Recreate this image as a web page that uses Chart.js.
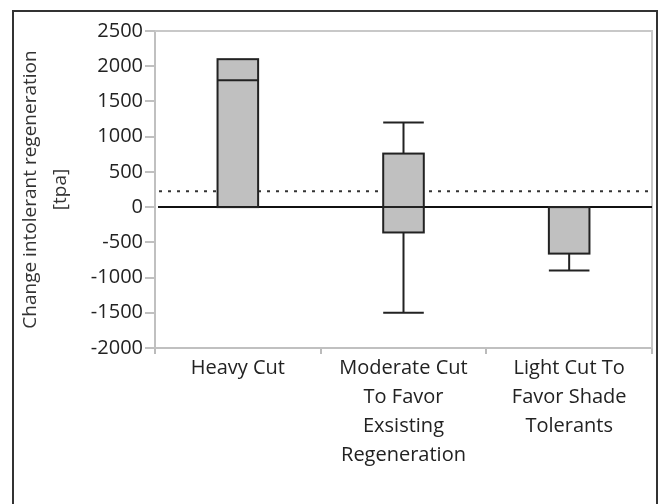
<!DOCTYPE html>
<html>
<head>
<meta charset="utf-8">
<title>Change intolerant regeneration</title>
<script src="https://cdn.jsdelivr.net/npm/chart.js"></script>
<style>
  body { margin: 0; background: #fff; }
  #wrap { position: relative; width: 662px; height: 504px; }
  #frame { position: absolute; left: 12px; top: 10px; width: 642px; height: 520px; border: 2px solid #333; }
</style>
</head>
<body>
<div id="wrap">
  <div id="frame"></div>
  <canvas id="boxChart" width="662" height="504"></canvas>
</div>
<script>
// categories and box plot values (tpa)
const categories = [
  ['Heavy Cut'],
  ['Moderate Cut', 'To Favor', 'Exsisting', 'Regeneration'],
  ['Light Cut To', 'Favor Shade', 'Tolerants']
];
const q1 = [0, -360, -660];
const q3 = [2100, 760, 0];
const medians = [1800, 0, 0];
const whiskerLow = [0, -1500, -900];
const whiskerHigh = [2100, 1200, 0];
const referenceLine = 225;
const yTicks = [2500, 2000, 1500, 1000, 500, 0, -500, -1000, -1500, -2000];

const FONT = "'Open Sans', 'Noto Sans', sans-serif";

// extra lines: plot frame, dotted reference, zero line, box outlines, whiskers and medians
const boxExtras = {
  id: 'boxExtras',
  beforeDatasetsDraw(chart) {
    const { ctx, chartArea: a, scales: { y } } = chart;
    ctx.save();
    ctx.strokeStyle = '#c8c8c8';
    ctx.lineWidth = 2;
    ctx.beginPath();
    ctx.moveTo(a.left, a.top);
    ctx.lineTo(a.right, a.top);
    ctx.lineTo(a.right, a.bottom);
    ctx.stroke();
    const ry = y.getPixelForValue(referenceLine);
    ctx.strokeStyle = '#333';
    ctx.lineWidth = 2;
    ctx.setLineDash([3, 6]);
    ctx.beginPath();
    ctx.moveTo(a.left + 4, ry);
    ctx.lineTo(a.right - 4, ry);
    ctx.stroke();
    ctx.restore();
  },
  afterDatasetsDraw(chart) {
    const { ctx, chartArea: a, scales: { x, y } } = chart;
    const meta = chart.getDatasetMeta(0);
    ctx.save();
    ctx.strokeStyle = '#111';
    ctx.lineWidth = 2;
    const zy = y.getPixelForValue(0);
    ctx.beginPath();
    ctx.moveTo(a.left + 3, zy);
    ctx.lineTo(a.right, zy);
    ctx.stroke();
    ctx.strokeStyle = '#222';
    categories.forEach((c, i) => {
      const cx = x.getPixelForValue(i);
      const half = meta.data[i].width / 2;
      const top = y.getPixelForValue(q3[i]);
      const bot = y.getPixelForValue(q1[i]);
      ctx.strokeRect(cx - half, top, half * 2, bot - top);
      const m = y.getPixelForValue(medians[i]);
      ctx.beginPath();
      ctx.moveTo(cx - half, m);
      ctx.lineTo(cx + half, m);
      const hi = y.getPixelForValue(whiskerHigh[i]);
      if (whiskerHigh[i] > q3[i]) {
        ctx.moveTo(cx, top);
        ctx.lineTo(cx, hi);
        ctx.moveTo(cx - half, hi);
        ctx.lineTo(cx + half, hi);
      }
      const lo = y.getPixelForValue(whiskerLow[i]);
      if (whiskerLow[i] < q1[i]) {
        ctx.moveTo(cx, bot);
        ctx.lineTo(cx, lo);
        ctx.moveTo(cx - half, lo);
        ctx.lineTo(cx + half, lo);
      }
      ctx.stroke();
    });
    ctx.restore();
  }
};

new Chart(document.getElementById('boxChart'), {
  type: 'bar',
  data: {
    labels: categories,
    datasets: [{
      data: q1.map((v, i) => [v, q3[i]]),
      backgroundColor: '#c0c0c0',
      borderWidth: 0,
      categoryPercentage: 1,
      barPercentage: 0.245
    }]
  },
  options: {
    responsive: false,
    animation: false,
    layout: { padding: { top: 31, right: 10, left: 0, bottom: 0 } },
    plugins: { legend: { display: false }, tooltip: { enabled: false } },
    scales: {
      x: {
        grid: { offset: true, drawOnChartArea: false, tickLength: 6, color: '#bbb', lineWidth: 2 },
        border: { color: '#c0c0c0', width: 2 },
        ticks: { color: '#222', font: { family: FONT, size: 20, lineHeight: 1.45 }, padding: 0, maxRotation: 0, autoSkip: false },
        afterFit(scale) { scale.height = 156; }
      },
      y: {
        min: -2000,
        max: 2500,
        afterBuildTicks(scale) { scale.ticks = yTicks.map(v => ({ value: v })); },
        grid: { drawOnChartArea: false, tickLength: 10, color: '#c0c0c0', lineWidth: 2 },
        border: { color: '#c0c0c0', width: 2 },
        ticks: { color: '#222', font: { family: FONT, size: 20 }, padding: 2, callback: v => String(v) },
        title: {
          display: true,
          text: ['Change intolerant regeneration', '[tpa]'],
          color: '#333',
          font: { family: FONT, size: 19, lineHeight: 1.55 },
          padding: { top: 16, bottom: 0 }
        },
        afterFit(scale) { scale.width = 155; }
      }
    }
  },
  plugins: [boxExtras]
});
</script>
</body>
</html>
